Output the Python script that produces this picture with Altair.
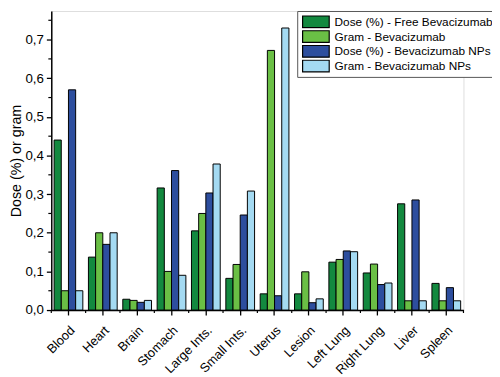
import altair as alt
import pandas as pd

organs = ["Blood", "Heart", "Brain", "Stomach", "Large Ints.", "Small Ints.",
          "Uterus", "Lesion", "Left Lung", "Right Lung", "Liver", "Spleen"]
series = ["Dose (%) - Free Bevacizumab", "Gram - Bevacizumab",
          "Dose (%) - Bevacizumab NPs", "Gram - Bevacizumab NPs"]
dose_free = [0.440, 0.137, 0.028, 0.316, 0.205, 0.082, 0.042, 0.042, 0.124, 0.096, 0.275, 0.069]
gram_free = [0.050, 0.200, 0.025, 0.100, 0.250, 0.118, 0.672, 0.099, 0.131, 0.119, 0.024, 0.024]
dose_nps = [0.570, 0.170, 0.020, 0.361, 0.303, 0.246, 0.037, 0.019, 0.153, 0.066, 0.285, 0.058]
gram_nps = [0.050, 0.200, 0.025, 0.090, 0.378, 0.308, 0.730, 0.029, 0.151, 0.070, 0.024, 0.024]
colors = ["#13893f", "#6abf45", "#2d4e9e", "#a4daf2"]
y_major_ticks = [0.0, 0.1, 0.2, 0.3, 0.4, 0.5, 0.6, 0.7]
y_minor_ticks = [0.05, 0.15, 0.25, 0.35, 0.45, 0.55, 0.65, 0.75]

rows = []
for s, vals in zip(series, [dose_free, gram_free, dose_nps, gram_nps]):
    for o, v in zip(organs, vals):
        rows.append({"organ": o, "series": s, "value": v})
df = pd.DataFrame(rows)

W, H = 419, 304
FONT = "Liberation Sans"

xscale = alt.Scale(domain=organs, paddingInner=0, paddingOuter=0)
yscale = alt.Scale(domain=[0, 0.774], nice=False, zero=True)

bars = alt.Chart(df).mark_bar(stroke="black", strokeWidth=1).encode(
    x=alt.X("organ:N", sort=organs, scale=xscale, title=None,
            axis=alt.Axis(labelAngle=-45, labelFontSize=13, labelFont=FONT,
                          labelColor="black", tickSize=5, tickColor="black",
                          tickWidth=1.3, domainColor="black", domainWidth=1.5,
                          labelPadding=9)),
    xOffset=alt.XOffset("series:N", sort=series,
                        scale=alt.Scale(domain=series, paddingInner=0, paddingOuter=0.39)),
    y=alt.Y("value:Q", scale=yscale, title="Dose (%) or gram",
            axis=alt.Axis(values=y_major_ticks, grid=False,
                          labelExpr="replace(format(datum.value, '.1f'), '.', ',')",
                          labelFontSize=13.5, labelFont=FONT, labelColor="black",
                          tickSize=5, tickColor="black", tickWidth=1.3,
                          domainColor="black", domainWidth=1.5, labelPadding=3,
                          titleFont=FONT, titleFontSize=14.5, titleFontWeight="normal",
                          titleColor="black", titlePadding=2)),
    color=alt.Color("series:N", sort=series,
                    scale=alt.Scale(domain=series, range=colors),
                    legend=alt.Legend(title=None, orient="none", legendX=250, legendY=0,
                                      labelFont=FONT, labelFontSize=12, labelColor="black",
                                      labelLimit=220, clipHeight=14,
                                      symbolType="M-1.93,-0.85H1.93V0.85H-1.93Z",
                                      symbolSize=196, symbolOffset=7,
                                      symbolStrokeColor="black", symbolStrokeWidth=1.2,
                                      rowPadding=1, padding=4, labelOffset=11,
                                      strokeColor="#555555", fillColor="white")),
)

ydf = pd.DataFrame({"v": y_minor_ticks})
yminor = alt.Chart(ydf).mark_rule(color="black", strokeWidth=1.2).encode(
    y=alt.Y("v:Q", scale=yscale),
    x=alt.value(-3), x2=alt.value(0),
)

xdf = pd.DataFrame({"organ": organs})
xminor = alt.Chart(xdf).mark_rule(color="black", strokeWidth=1.2).encode(
    x=alt.X("organ:N", sort=organs, scale=xscale, bandPosition=0),
    y=alt.value(H), y2=alt.value(H + 3),
)
xend = alt.Chart(pd.DataFrame({"a": [0]})).mark_rule(color="black", strokeWidth=1.2).encode(
    x=alt.value(W), y=alt.value(H), y2=alt.value(H + 3),
)

chart = alt.layer(bars, yminor, xminor, xend).properties(
    width=W, height=H,
    autosize=alt.AutoSizeParams(type="none"),
    padding={"left": 44, "top": 0, "right": 29, "bottom": 65},
).configure_view(strokeWidth=0).configure(font=FONT)

chart.save("out.html", embed_options={"renderer": "svg", "actions": False})
